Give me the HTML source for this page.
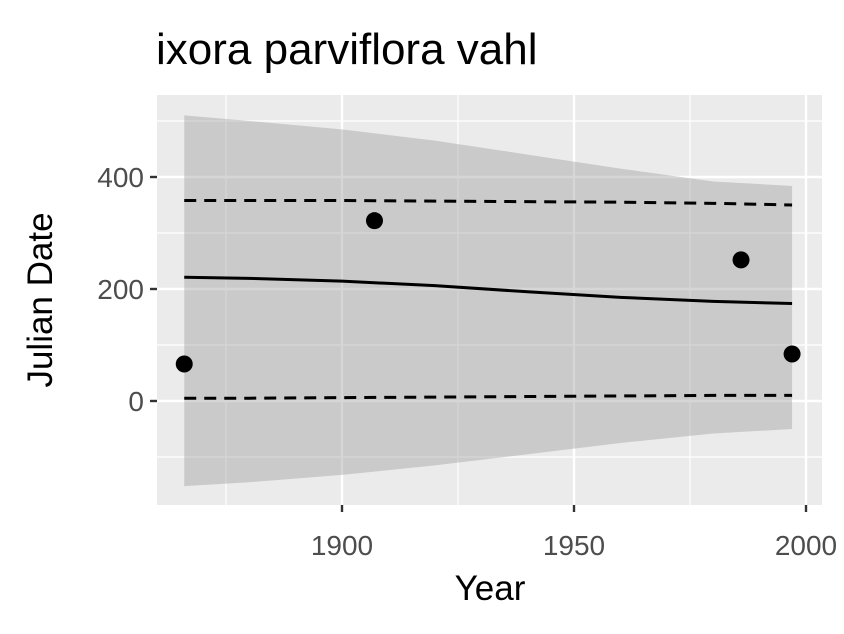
<!DOCTYPE html>
<html><head><meta charset="utf-8"><style>
body{margin:0;background:#fff;}
svg{display:block;font-family:"Liberation Sans",Arial,sans-serif;}
</style></head><body>
<svg id="chart" width="844" height="634">
<text x="156" y="64" font-size="44" fill="#000">ixora parviflora vahl</text>
<rect x="157" y="95" width="665" height="410" fill="#ebebeb"/>
<g id="grid"></g>
<g id="marks"></g>
<g id="axes"></g>
<text x="490" y="600" font-size="35" text-anchor="middle" fill="#000">Year</text>
<text transform="translate(52,300) rotate(-90)" font-size="35" text-anchor="middle" fill="#000">Julian Date</text>
</svg>
<script>
const xTicks=[1900,1950,2000];
const xMinor=[1875,1925,1975];
const yTicks=[0,200,400];
const yMinor=[-100,100,300,500];
const pointYears=[1866,1907,1986,1997];
const pointValues=[66,322,252,84];
const curveYears=[1866,1880,1900,1920,1940,1960,1980,1997];
const meanValues=[221,219,214,206,195,185,178,174];
const ribbonUpper=[510,500,485,465,440,415,392,384];
const ribbonLower=[-152,-145,-132,-115,-95,-75,-58,-50];
const dashUpper=[358,358,358,357,356,355,353,350];
const dashLower=[5,5,6,7,8,9,10,10];

const ns="http://www.w3.org/2000/svg";
const sx=y=>342+(y-1900)*4.64;
const sy=v=>401-v*0.56;
function mk(tag,attrs,parent){const e=document.createElementNS(ns,tag);for(const k in attrs)e.setAttribute(k,attrs[k]);document.getElementById(parent).appendChild(e);return e;}
const L=157,R=822,T=95,B=505;
xMinor.forEach(t=>{const e=mk('line',{x1:sx(t),x2:sx(t),y1:T,y2:B,stroke:'#fff','stroke-width':1.2},'grid');

});
yMinor.forEach(t=>{const e=mk('line',{x1:L,x2:R,y1:sy(t),y2:sy(t),stroke:'#fff','stroke-width':1.2},'grid');

});
xTicks.forEach(t=>{const e=mk('line',{x1:sx(t),x2:sx(t),y1:T,y2:B,stroke:'#fff','stroke-width':2.4},'grid');


const tk=mk('line',{x1:sx(t),x2:sx(t),y1:B,y2:B+7,stroke:'#333','stroke-width':2.4},'axes');


const tx=mk('text',{x:sx(t),y:B+50,'font-size':28,'text-anchor':'middle',fill:'#4d4d4d'},'axes');tx.textContent=t;

});
yTicks.forEach(t=>{const e=mk('line',{x1:L,x2:R,y1:sy(t),y2:sy(t),stroke:'#fff','stroke-width':2.4},'grid');


const tk=mk('line',{x1:L-7,x2:L,y1:sy(t),y2:sy(t),stroke:'#333','stroke-width':2.4},'axes');


const tx=mk('text',{x:L-13,y:sy(t)+10,'font-size':28,'text-anchor':'end',fill:'#4d4d4d'},'axes');tx.textContent=t;

});
let pts=curveYears.map((y,i)=>sx(y)+','+sy(ribbonUpper[i]));
pts=pts.concat(curveYears.map((y,i)=>sx(y)+','+sy(ribbonLower[i])).reverse());
const rib=mk('polygon',{points:pts.join(' '),fill:'#999','fill-opacity':0.4},'marks');


function line(vals,dash,name){const e=mk('polyline',{points:curveYears.map((y,i)=>sx(y)+','+sy(vals[i])).join(' '),fill:'none',stroke:'#000','stroke-width':3,'stroke-dasharray':dash},'marks');

}
line(meanValues,'none','mean-line');
line(dashUpper,'12 8','upper-dashed-line');
line(dashLower,'12 8','lower-dashed-line');
pointYears.forEach((y,i)=>{const c=mk('circle',{cx:sx(y),cy:sy(pointValues[i]),r:8.5,fill:'#000'},'marks');

});
</script>
</body></html>
